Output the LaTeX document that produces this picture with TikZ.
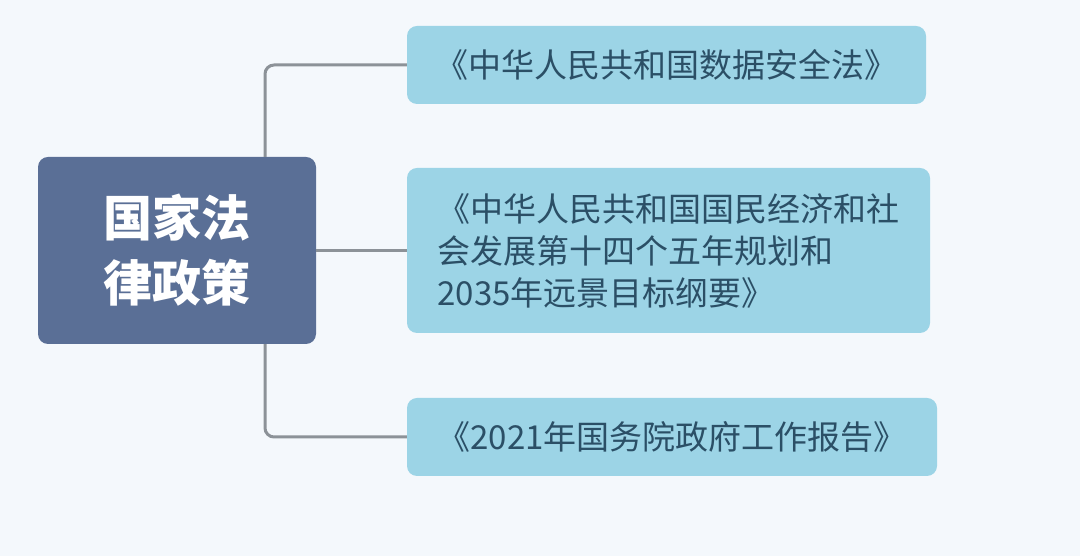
\documentclass[tikz,border=0pt]{standalone}
\usepackage{fontspec}
\newfontfamily\cjk{Noto Sans CJK SC}
\definecolor{bgcol}{HTML}{F4F8FC}
\definecolor{rootcol}{HTML}{5A6F96}
\definecolor{leafcol}{HTML}{9CD4E6}
\definecolor{leaftext}{HTML}{2B4F66}
\definecolor{linkcol}{HTML}{8C9298}
\tikzset{
  rootbox/.style={fill=rootcol, rounded corners=10pt, minimum width=278pt, minimum height=187pt,
    text=white, align=center, font=\cjk\bfseries\fontsize{49}{65}\selectfont},
  leafbox/.style={fill=leafcol, rounded corners=10pt, minimum height=78pt,
    text=leaftext, align=left, font=\cjk\fontsize{33}{42}\selectfont},
  link/.style={draw=linkcol, line width=3pt, rounded corners=9pt}
}
\begin{document}
\begin{tikzpicture}[x=1pt,y=1pt]
  \fill[bgcol] (0,0) rectangle (1080,556);
  \useasboundingbox (0,0) rectangle (1080,556);
  % root and leaves
  \node[rootbox] (root) at (177,305.5) {国家法\\律政策};
  \node[leafbox, minimum width=519pt] (law) at (666.5,491) {《中华人民共和国数据安全法》};
  \node[leafbox, minimum width=523pt, minimum height=165pt] (plan) at (668.5,305.5)
    {《中华人民共和国国民经济和社\\会发展第十四个五年规划和\\2035年远景目标纲要》};
  \node[leafbox, minimum width=530pt] (report) at (672,119) {《2021年国务院政府工作报告》};
  % connectors
  \coordinate (trunk) at (265,0);
  \draw[link] (law.west) -| (trunk |- root.north);
  \draw[link] (root.east) -- (plan.west);
  \draw[link] (trunk |- root.south) |- (report.west);
\end{tikzpicture}
\end{document}
